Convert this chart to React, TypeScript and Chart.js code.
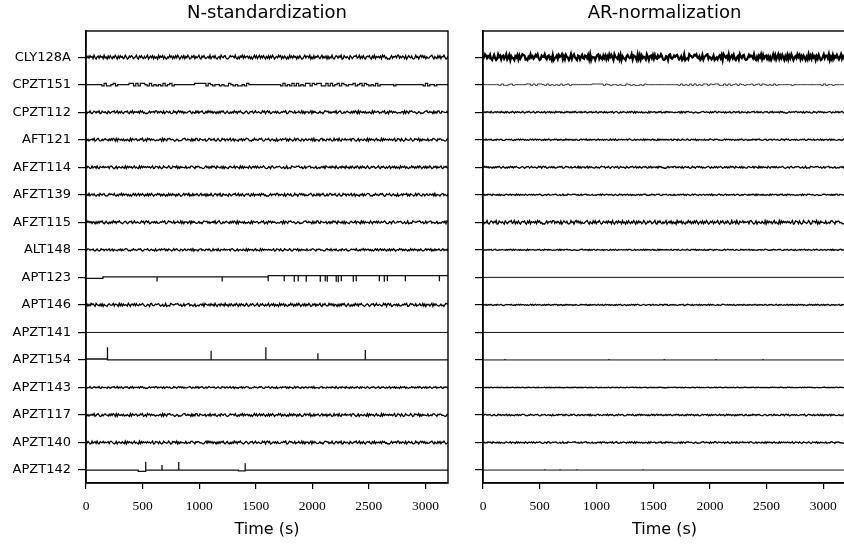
import React, { useEffect, useRef } from 'react';
import { Chart, registerables } from 'chart.js';
Chart.register(...registerables);

// ---------------- data ----------------
const ROWS = ['CLY128A', 'CPZT151', 'CPZT112', 'AFT121', 'AFZT114', 'AFZT139', 'AFZT115', 'ALT148',
  'APT123', 'APT146', 'APZT141', 'APZT154', 'APZT143', 'APZT117', 'APZT140', 'APZT142'];
const X_TICKS = [0, 500, 1000, 1500, 2000, 2500, 3000];
const T_MAX = 3200;
const TITLES = ['N-standardization', 'AR-normalization'];

// estimated noise samples (digits 0-9, centred on 4.5)
const N1 = '5372846193 0572846193 5072841639 5072846139 5027486135 9207483162 5904738162 5093748162 0539471628 3950472816 3950274816 3592074831';
const N2 = '4629157382 0461953782 0148576392 0517492836 7261504938 1592738406 2817395046 3958162740 5193728460 6284015937 7390518264 8415926370';
const N3 = '7153920486 2749018536 3085147692 4916283057 5820739164 6371958240 1048265739 9263751804 8537102946 0694837152 2579406318 3816594027';
const N4 = '2948371650 6172859304 8305162947 1759430268 5027681493 3641295807 9480156372 7213648590 0596732814 4832917065 6159083742 1372405986';
const N5 = '8261547390 3794016258 5417283960 9085362714 2630918547 7143859026 0958274631 4326709185 1879546302 6502137894 3745081629 9218653470';
const N6 = '1597364820 4830295716 7259148063 3064817259 8712053946 2486930175 5931672408 0347285691 6185403927 9420761583 2763819054 4058926317';
const N7 = '6384019257 1920754836 4571896203 8056327419 0837461592 5209183746 3746259018 7618302954 2495018673 9061745328 1352896407 5873420169';
const N8 = '3716295840 9542718063 2068534917 6409281735 4195067382 8327459610 1650893247 5784136029 0231976458 7943602815 6892541370 2415738096';

// CPZT151 burst levels, one char per 20 s ('-' down, '0' base, '+' up)
const CPZT151_LEVELS =
  '0000000' + '-+--0+-' + '00000' + '++-+-++0-+-0' + '-0-+-0+-' + '000000000' + '+++++-+0-' + '00' +
  '-0--+0-' + '0' + '--0-+' + '00000000000000' + '-+-0-+-' + '+-0-' + '++-+0++--+-+' + '-0+-+0-' + '00' +
  '+-0+-+0-' + '0' + '-+-' + '000000' + '-' + '000000000000' + '-+-' + '00' + '-' + '000000';

// APT123: baseline steps [time, level] and downward spikes [time, height]
const APT123_STEPS: [number, number][] = [[0, -0.04], [150, 0.02], [1610, 0.06]];
const APT123_SPIKES: [number, number][] = [[628, -0.17], [1204, -0.17], [1611, -0.2], [1752, -0.2], [1841, -0.22],
  [1876, -0.2], [1947, -0.22], [2071, -0.22], [2115, -0.2], [2133, -0.22], [2212, -0.22], [2230, -0.24],
  [2257, -0.2], [2363, -0.22], [2389, -0.2], [2593, -0.2], [2637, -0.22], [2664, -0.2], [2823, -0.2], [3124, -0.2]];
// APZT154: upward spikes
const APZT154_STEPS: [number, number][] = [[0, 0.035], [190, 0]];
const APZT154_SPIKES: [number, number][] = [[190, 0.46], [1106, 0.33], [1590, 0.46], [2050, 0.24], [2469, 0.36]];
const APZT154_AR_SPIKES: [number, number][] = [[195, 0.035], [1112, 0.03], [1598, 0.035], [2054, 0.03], [2468, 0.03]];
// APZT142
const APZT142_STEPS: [number, number][] = [[0, 0], [462, -0.045], [528, 0], [1347, -0.03], [1407, 0]];
const APZT142_SPIKES: [number, number][] = [[528, 0.3], [672, 0.18], [820, 0.29], [1407, 0.25]];
const APZT142_AR_SPIKES: [number, number][] = [[547, 0.02], [680, 0.02], [827, 0.02], [1410, 0.02]];

// per-row noise sources and amplitudes (null = not a noise trace)
const NSTD_SRC: (string[] | null)[] = [[N1, N2, N3], null, [N3, N4, N5], [N5, N6, N7], [N7, N8, N1], [N2, N3, N6],
  [N4, N5, N8], [N6, N7, N2], null, [N8, N1, N4], null, null, [N3, N6, N1], [N5, N2, N7], [N7, N4, N3], null];
const NSTD_AMP = [0.07, 0.045, 0.05, 0.05, 0.048, 0.05, 0.05, 0.04, 0, 0.055, 0, 0, 0.032, 0.05, 0.05, 0];
const AR_SRC: (string[] | null)[] = [[N6, N8, N2], null, [N1, N5, N3], [N2, N7, N4], [N4, N3, N8], [N8, N6, N5],
  [N3, N1, N7], [N5, N7, N6], null, [N2, N4, N1], null, null, [N1, N3, N5], [N6, N2, N4], [N8, N5, N7], null];
const AR_AMP = [0.105, 0.025, 0.03, 0.025, 0.035, 0.025, 0.065, 0.02, 0, 0.022, 0, 0, 0.01, 0.028, 0.028, 0];

// ---------------- builders ----------------
type P = { x: number; y: number };

function noisePoints(src: string[], amp: number, off: number): P[] {
  const digits = src.join('').replace(/[^0-9]/g, '').split('').map(Number);
  const n = digits.length;
  return digits.map((d, k) => ({ x: (k * T_MAX) / (n - 1), y: off + (amp * (d - 4.5)) / 4.5 }));
}

function levelPoints(levels: string, amp: number, off: number): P[] {
  const out: P[] = [];
  const step = T_MAX / (levels.length - 1);
  for (let k = 0; k < levels.length; k++) {
    const c = levels[k];
    const v = c === '+' ? 1 : c === '-' ? -1 : 0;
    out.push({ x: k * step, y: off + v * amp });
  }
  return out;
}

function eventPoints(steps: [number, number][], spikes: [number, number][], off: number): P[] {
  const events: { t: number; kind: number; v: number }[] = [];
  steps.forEach(([t, v]) => events.push({ t, kind: 0, v }));
  spikes.forEach(([t, v]) => events.push({ t, kind: 1, v }));
  events.sort((a, b) => a.t - b.t || a.kind - b.kind);
  const out: P[] = [];
  let lvl = steps[0][1];
  out.push({ x: 0, y: off + lvl });
  for (const e of events) {
    if (e.kind === 0) {
      out.push({ x: e.t, y: off + lvl });
      lvl = e.v;
      out.push({ x: e.t, y: off + lvl });
    } else {
      out.push({ x: e.t, y: off + lvl });
      out.push({ x: e.t, y: off + lvl + e.v });
      out.push({ x: e.t, y: off + lvl });
    }
  }
  out.push({ x: T_MAX, y: off + lvl });
  return out;
}

function buildDatasets(panel: number) {
  const src = panel === 0 ? NSTD_SRC : AR_SRC;
  const amp = panel === 0 ? NSTD_AMP : AR_AMP;
  return ROWS.map((name, i) => {
    const off = ROWS.length - 1 - i;
    let data: P[] = [];
    let stepped = false;
    let color = '#000';
    let width = 1;
    if (src[i]) {
      data = noisePoints(src[i] as string[], amp[i], off);
      width = panel === 1 && i === 0 ? 2.2 : 1.3;
    } else if (name === 'CPZT151') {
      data = levelPoints(CPZT151_LEVELS, amp[i], off);
      stepped = true;
      color = panel === 0 ? '#111' : '#333';
      width = panel === 0 ? 1.2 : 1;
    } else if (name === 'APT123') {
      data = panel === 0 ? eventPoints(APT123_STEPS, APT123_SPIKES, off) : eventPoints([[0, 0]], [], off);
      color = '#111';
      width = panel === 0 ? 1.3 : 1;
    } else if (name === 'APZT154') {
      data = panel === 0 ? eventPoints(APZT154_STEPS, APZT154_SPIKES, off) : eventPoints([[0, 0]], APZT154_AR_SPIKES, off);
      color = '#111';
      width = panel === 0 ? 1.3 : 1;
    } else if (name === 'APZT142') {
      data = panel === 0 ? eventPoints(APZT142_STEPS, APZT142_SPIKES, off) : eventPoints([[0, 0]], APZT142_AR_SPIKES, off);
      color = '#111';
      width = panel === 0 ? 1.3 : 1;
    } else {
      data = eventPoints([[0, 0]], [], off);
      color = '#111';
    }
    return {
      label: name,
      data,
      borderColor: color,
      borderWidth: width,
      pointRadius: 0,
      tension: 0,
      stepped,
      fill: false,
    };
  });
}

const framePlugin = {
  id: 'frame',
  afterDraw(chart: any, _args: any, opts: any) {
    const { ctx, chartArea: a } = chart;
    ctx.save();
    ctx.strokeStyle = '#000';
    ctx.lineWidth = 1.4;
    ctx.strokeRect(a.left, a.top, a.right - a.left, a.bottom - a.top);
    ctx.fillStyle = '#000';
    ctx.font = '18px "DejaVu Sans"';
    ctx.textAlign = 'center';
    ctx.textBaseline = 'alphabetic';
    ctx.fillText(opts.text, (a.left + a.right) / 2, 18);
    ctx.restore();
  },
};

function makeConfig(panel: number): any {
  return {
    type: 'line',
    data: { datasets: buildDatasets(panel) },
    plugins: [framePlugin],
    options: {
      animation: false,
      responsive: false,
      parsing: false,
      normalized: true,
      layout: { padding: { left: 0, right: panel === 0 ? 17 : 1, top: 31, bottom: 0 } },
      plugins: {
        legend: { display: false },
        tooltip: { enabled: false },
        title: { display: false },
        frame: { text: TITLES[panel] },
      },
      scales: {
        x: {
          type: 'linear',
          min: 0,
          max: T_MAX,
          afterBuildTicks: (s: any) => { s.ticks = X_TICKS.map((v) => ({ value: v })); },
          afterFit: (s: any) => { s.height = 62; },
          grid: { display: true, drawOnChartArea: false, drawTicks: true, tickLength: 6, color: '#000', lineWidth: 1.2 },
          border: { display: true, color: '#000', width: 1.4 },
          ticks: {
            color: '#000',
            font: { family: '"Liberation Serif"', size: 13.5 },
            padding: 9,
            maxRotation: 0,
            autoSkip: false,
            callback: (v: number) => String(v),
          },
          title: { display: true, text: 'Time (s)', color: '#000', font: { family: '"DejaVu Sans"', size: 16 }, padding: { top: 2, bottom: 6 } },
        },
        y: {
          type: 'linear',
          min: -0.47,
          max: 15.95,
          afterBuildTicks: (s: any) => { s.ticks = ROWS.map((_, i) => ({ value: ROWS.length - 1 - i })); },
          afterFit: (s: any) => { s.width = panel === 0 ? 86 : 18; },
          grid: { display: true, drawOnChartArea: false, drawTicks: true, tickLength: 8, color: '#000', lineWidth: 1.2 },
          border: { display: true, color: '#000', width: 1.4 },
          ticks: {
            color: '#000',
            font: { family: '"DejaVu Sans"', size: 13 },
            padding: 7,
            autoSkip: false,
            callback: (v: number) => (panel === 0 ? ROWS[ROWS.length - 1 - Math.round(v)] : ''),
          },
        },
      },
    },
  };
}

function Panel({ panel, left, width }: { panel: number; left: number; width: number }) {
  const ref = useRef<HTMLCanvasElement>(null);
  useEffect(() => {
    if (!ref.current) return;
    const chart = new Chart(ref.current, makeConfig(panel));
    return () => chart.destroy();
  }, [panel]);
  return (
    <canvas
      ref={ref}
      width={width}
      height={545}
      style={{ position: 'absolute', left, top: 0, width, height: 545 }}
    />
  );
}

export default function App() {
  return (
    <div style={{ position: 'fixed', left: 0, top: 0, width: 844, height: 545, overflow: 'hidden', background: '#fff' }}>
      <Panel panel={0} left={0} width={465} />
      <Panel panel={1} left={465} width={382} />
    </div>
  );
}
